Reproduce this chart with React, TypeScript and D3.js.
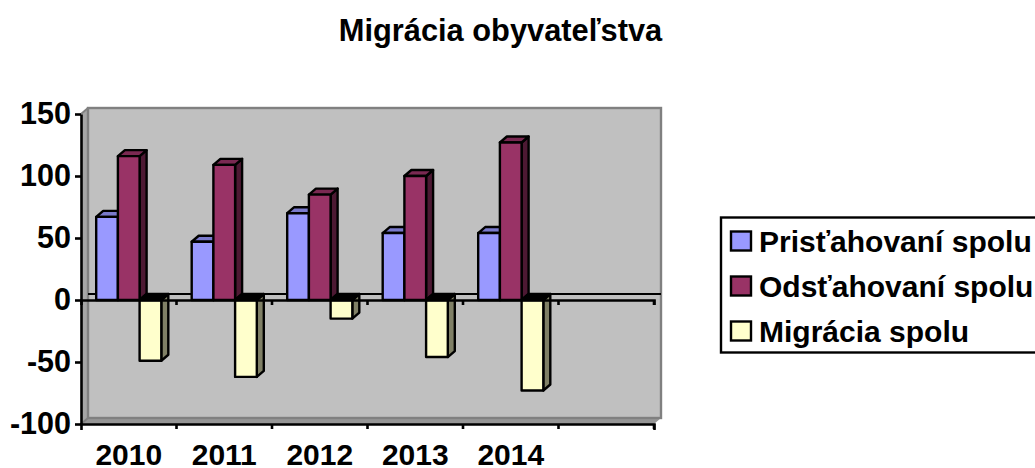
import React, { useRef, useEffect } from 'react';
import * as d3 from 'd3';

const years = ['2010', '2011', '2012', '2013', '2014', ''];
const seriesNames = ['Prisťahovaní spolu', 'Odsťahovaní spolu', 'Migrácia spolu'];
const prist = [67, 47, 70, 54, 54];
const odst = [116, 109, 85, 100, 127];
const migr = [-49, -62, -15, -46, -73];
const yTicks = [150, 100, 50, 0, -50, -100];
const seriesValues = [prist, odst, migr];

const frontColors = ['#9999FF', '#993366', '#FFFFCC'];
const sideColors = ['#4D4D80', '#4D1933', '#808066'];
const topColors = ['#7A7ACC', '#7A2952', '#CCCCA3'];

const FONT = '"Liberation Sans", Arial, sans-serif';

const App = () => {
  const svgReference = useRef<SVGSVGElement>(null);

  useEffect(() => {
    const svg = d3.select(svgReference.current);
    svg.selectAll('*').remove();

    const dx = 7; // 3d offset of the back wall
    const dy = 6;

    const xScale = d3.scaleBand().domain(years).range([81, 654]);
    const barScale = d3.scaleBand()
      .domain(seriesNames)
      .range([0, xScale.bandwidth()])
      .paddingOuter(0.7);
    const yScale = d3.scaleLinear().domain([-100, 150]).range([424, 114]);

    const left = xScale.range()[0];
    const right = xScale.range()[1];
    const bottom = yScale(-100);
    const top = yScale(150);
    const zero = yScale(0);

    const poly = (pts: number[][], fill: string, stroke = 'none', sw = 0) =>
      svg.append('polygon')
        .attr('points', pts.map(p => p.join(',')).join(' '))
        .attr('fill', fill)
        .attr('stroke', stroke)
        .attr('stroke-width', sw)
        .attr('stroke-linejoin', 'round');

    // --- Walls ---
    poly([[left, top], [left + dx, top - dy], [left + dx, bottom - dy], [left, bottom]], '#A6A6A6');
    poly([[left, bottom], [left + dx, bottom - dy], [right + dx, bottom - dy], [right, bottom]], '#969696');
    svg.append('rect')
      .attr('x', left + dx).attr('y', top - dy)
      .attr('width', right - left).attr('height', bottom - top)
      .attr('fill', '#C0C0C0')
      .attr('stroke', '#808080')
      .attr('stroke-width', 2.4);
    svg.append('line')
      .attr('x1', left).attr('y1', top).attr('x2', left + dx).attr('y2', top - dy)
      .attr('stroke', '#808080').attr('stroke-width', 2);
    svg.append('line')
      .attr('x1', left).attr('y1', bottom).attr('x2', left + dx).attr('y2', bottom - dy)
      .attr('stroke', '#808080').attr('stroke-width', 2);

    // --- Zero plane, back edge ---
    svg.append('line')
      .attr('x1', left + dx).attr('y1', zero - dy)
      .attr('x2', right + dx).attr('y2', zero - dy)
      .attr('stroke', '#000')
      .attr('stroke-width', 2);

    // --- Bars ---
    years.slice(0, prist.length).forEach((year, i) => {
      seriesNames.forEach((name, s) => {
        const v = seriesValues[s][i];
        const x0 = xScale(year)! + barScale(name)!;
        const x1 = x0 + barScale.bandwidth();
        const yTop = yScale(Math.max(v, 0));
        const yBottom = yScale(Math.min(v, 0));
        poly([[x1, yTop], [x1 + dx, yTop - dy], [x1 + dx, yBottom - dy], [x1, yBottom]], sideColors[s], '#000', 2.4);
        poly([[x0, yTop], [x0 + dx, yTop - dy], [x1 + dx, yTop - dy], [x1, yTop]], v < 0 ? '#000' : topColors[s], '#000', 2.4);
        poly([[x0, yTop], [x1, yTop], [x1, yBottom], [x0, yBottom]], frontColors[s], '#000', 2.4);
      });
    });

    // --- Axes ---
    const yAxis = svg.append('g')
      .attr('transform', `translate(${left},0)`)
      .call(d3.axisLeft(yScale).tickValues(yTicks).tickFormat(d => String(d)).tickSize(6).tickSizeOuter(0).tickPadding(4));
    yAxis.selectAll('line, path').attr('stroke', '#000').attr('stroke-width', 2.6);
    yAxis.selectAll('text')
      .attr('fill', '#000')
      .style('font', `bold 30.5px ${FONT}`);

    const zeroAxis = svg.append('g')
      .attr('transform', `translate(0,${zero})`)
      .call(d3.axisBottom(xScale).tickValues([]).tickSize(0).tickSizeOuter(5));
    zeroAxis.selectAll('path').attr('stroke', '#000').attr('stroke-width', 2.6);

    const bottomAxis = svg.append('g')
      .attr('transform', `translate(0,${bottom})`)
      .call(d3.axisBottom(xScale).tickSize(0).tickSizeOuter(6).tickPadding(20));
    bottomAxis.selectAll('path').attr('stroke', '#000').attr('stroke-width', 2.6);
    bottomAxis.selectAll('text')
      .attr('fill', '#000')
      .style('font', `bold 30px ${FONT}`);

    // band edge ticks on both horizontal axes
    [zero, bottom].forEach(y => {
      svg.append('g').selectAll('line')
        .data(years)
        .enter().append('line')
        .attr('x1', d => xScale(d)! + xScale.bandwidth())
        .attr('x2', d => xScale(d)! + xScale.bandwidth())
        .attr('y1', y)
        .attr('y2', y + 5)
        .attr('stroke', '#000')
        .attr('stroke-width', 2.6);
    });

    // --- Title ---
    svg.append('text')
      .attr('x', 500.5)
      .attr('y', 41)
      .attr('text-anchor', 'middle')
      .style('font', `bold 30.8px ${FONT}`)
      .text('Migrácia obyvateľstva');

    // --- Legend ---
    svg.append('rect')
      .attr('x', 721).attr('y', 217.5)
      .attr('width', 330).attr('height', 135)
      .attr('fill', '#fff')
      .attr('stroke', '#000')
      .attr('stroke-width', 2.4);
    seriesNames.forEach((name, s) => {
      const cy = 241 + s * 45;
      svg.append('rect')
        .attr('x', 731).attr('y', cy - 9.5)
        .attr('width', 20).attr('height', 19)
        .attr('fill', frontColors[s])
        .attr('stroke', '#000')
        .attr('stroke-width', 2.4);
      svg.append('text')
        .attr('x', 759)
        .attr('y', cy + 11)
        .style('font', `bold 30px ${FONT}`)
        .text(name);
    });
  }, []);

  return (
    <svg
      ref={svgReference}
      width={1035}
      height={468}
      style={{ position: 'fixed', left: 0, top: 0, background: '#fff' }}
    />
  );
};

export default App;
